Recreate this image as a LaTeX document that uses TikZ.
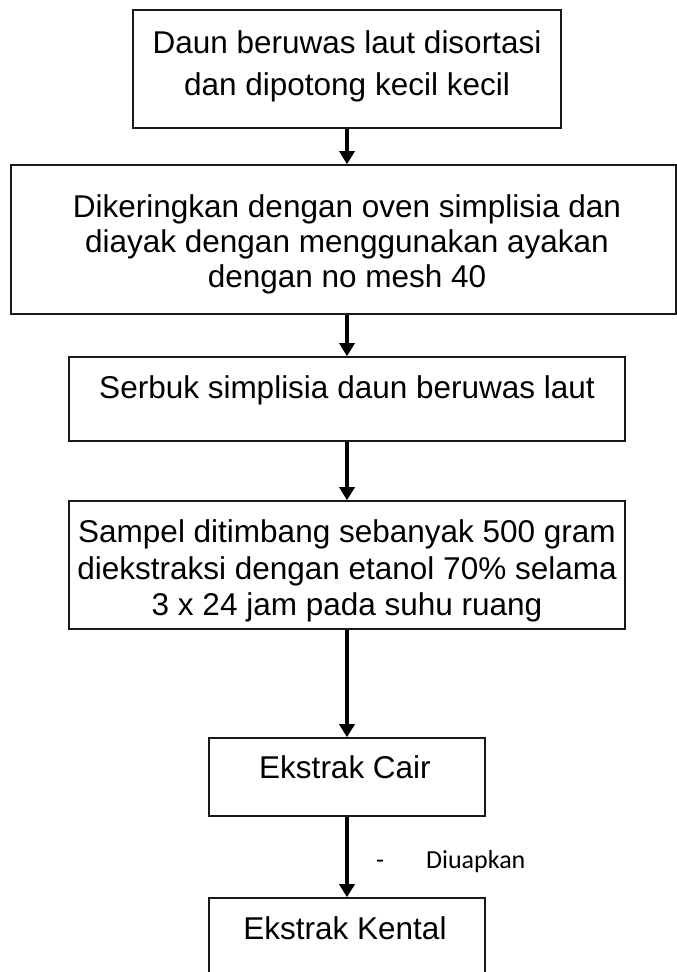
\documentclass[tikz,border=0pt]{standalone}
\usepackage{fontspec}
\setmainfont{Liberation Sans}
\newfontfamily\notefont{Carlito}
\usetikzlibrary{arrows.meta}

\tikzset{
  stepbox/.style={draw=black!90, line width=1.6pt, inner sep=0pt},
  steptext/.style={align=center, inner sep=0pt, font=\fontsize{31.5}{#1}\selectfont},
  steptext/.default=42,
  flow/.style={line width=4.6pt, -{Triangle[width=15pt,length=13pt]}}
}

\begin{document}
\begin{tikzpicture}[x=1pt,y=-1pt]
  \useasboundingbox (0,0) rectangle (677,972);
  % boxes
  \node[stepbox, minimum width=428pt, minimum height=118pt] (b1) at (347,69) {};
  \node[stepbox, minimum width=665pt, minimum height=149pt] (b2) at (343.5,239.5) {};
  \node[stepbox, minimum width=556pt, minimum height=84pt] (b3) at (347,399) {};
  \node[stepbox, minimum width=556pt, minimum height=128pt] (b4) at (347,565) {};
  \node[stepbox, minimum width=276pt, minimum height=78pt] (b5) at (347,777) {};
  \node[stepbox, minimum width=276pt, minimum height=92pt] (b6) at (347,944) {};
  % texts
  \node[steptext] (t1) at (347,66.8) {Daun beruwas laut disortasi\\dan dipotong kecil kecil};
  \node[steptext=35] (t2) at (347,244) {Dikeringkan dengan oven simplisia dan\\diayak dengan menggunakan ayakan\\dengan no mesh 40};
  \node[steptext, anchor=base] (t3) at (347,398) {Serbuk simplisia daun beruwas laut};
  \node[steptext=36.5] (t4) at (347,571.3) {Sampel ditimbang sebanyak 500 gram\\diekstraksi dengan etanol 70\% selama\\3 x 24 jam pada suhu ruang};
  \node[steptext, anchor=base] (t5) at (345,778) {Ekstrak Cair};
  \node[steptext, anchor=base] (t6) at (345,939) {Ekstrak Kental};
  \node[anchor=base west, inner sep=0pt, font=\notefont\fontsize{26}{30}\selectfont] (note) at (376,868) {-\hspace{42pt}Diuapkan};
  % arrows
  \draw[flow] (b1.south) -- (b2.north -| b1.south);
  \draw[flow] (b2.south -| b1.south) -- (b3.north);
  \draw[flow] (b3.south) -- (b4.north);
  \draw[flow] (b4.south) -- (b5.north);
  \draw[flow] (b5.south) -- (b6.north);
\end{tikzpicture}
\end{document}
